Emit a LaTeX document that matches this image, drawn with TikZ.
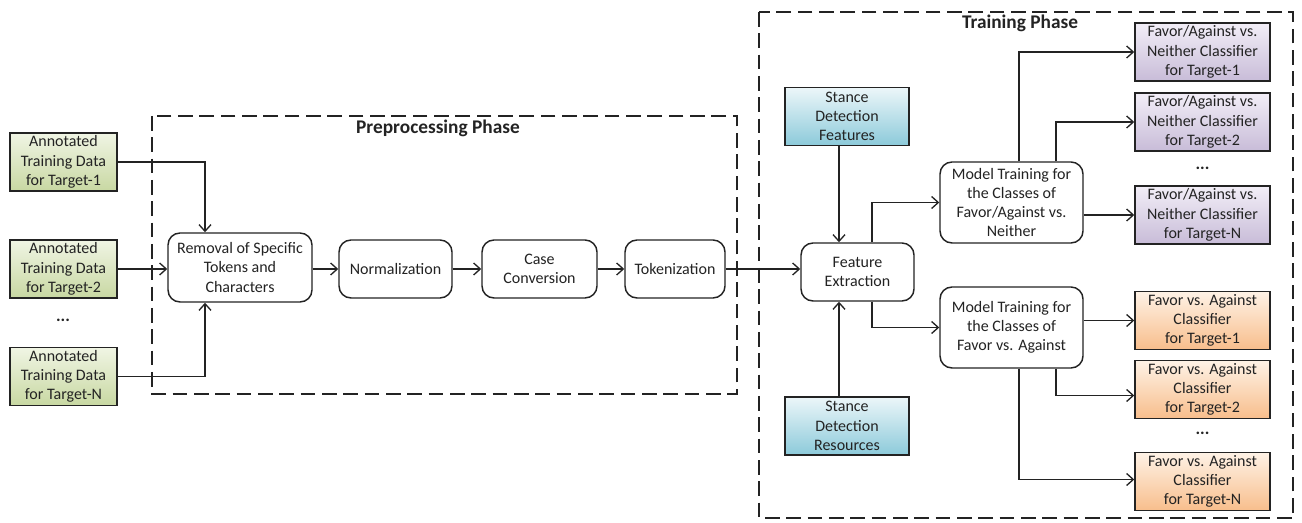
\documentclass[tikz,border=0pt]{standalone}
\usepackage{fontspec}
\setmainfont{Carlito}
\usetikzlibrary{arrows.meta,calc}
\definecolor{gtop}{RGB}{240,245,228}
\definecolor{gbot}{RGB}{200,216,162}
\definecolor{btop}{RGB}{236,246,249}
\definecolor{bbot}{RGB}{140,202,218}
\definecolor{ptop}{RGB}{242,238,247}
\definecolor{pbot}{RGB}{200,188,216}
\definecolor{otop}{RGB}{254,242,230}
\definecolor{obot}{RGB}{248,190,140}
\definecolor{ink}{RGB}{35,35,35}
\tikzset{
  base/.style={draw=ink, line width=1.1pt, align=center, inner sep=1pt,
    font=\fontsize{12}{14.4}\selectfont, text=ink},
  rbox/.style={base, rounded corners=9pt, fill=white},
  gbox/.style={base, top color=gtop, bottom color=gbot, minimum width=107*0.75pt, minimum height=58*0.75pt},
  bbox/.style={base, top color=btop, bottom color=bbot, minimum width=124*0.75pt, minimum height=58*0.75pt},
  pbox/.style={base, top color=ptop, bottom color=pbot, minimum width=135*0.75pt, minimum height=58*0.75pt},
  obox/.style={base, top color=otop, bottom color=obot, minimum width=135*0.75pt, minimum height=58*0.75pt},
  arr/.style={draw=ink, line width=1pt, -{Straight Barb[length=5pt,width=9pt,line width=1pt]}},
  phase/.style={draw=ink, line width=1.5pt, dash pattern=on 11pt off 5pt},
  ttl/.style={font=\fontsize{14.5}{16}\selectfont\bfseries, text=ink},
  dots/.style={font=\fontsize{13}{14}\selectfont\bfseries, text=ink}
}
\begin{document}
\begin{tikzpicture}[x=0.75pt,y=-0.75pt]
\useasboundingbox (0,0) rectangle (1302,523);
% phases
\draw[phase] (152,116) rectangle (737,394);
\draw[phase] (759,12) rectangle (1293,518);
\node[ttl] (t1) at (438,128) {Preprocessing Phase};
\node[ttl] (t2) at (1020,23) {Training Phase};
% inputs
\node[gbox] (g1) at (63.5,162) {Annotated\\Training Data\\for Target-1};
\node[gbox] (g2) at (63.5,269) {Annotated\\Training Data\\for Target-2};
\node[dots] (gd) at (63,320) {...};
\node[gbox] (g3) at (63.5,376.5) {Annotated\\Training Data\\for Target-N};
% preprocessing
\node[rbox, minimum width=144*0.75pt, minimum height=69*0.75pt] (rem) at (240,267.5) {Removal of Specific\\Tokens and\\Characters};
\node[rbox, minimum width=113*0.75pt, minimum height=58*0.75pt] (norm) at (395.5,269) {Normalization};
\node[rbox, minimum width=115*0.75pt, minimum height=58*0.75pt] (case) at (539.5,269) {Case\\Conversion};
\node[rbox, minimum width=100*0.75pt, minimum height=58*0.75pt] (tok) at (675,269) {Tokenization};
% training
\node[bbox] (sdf) at (847,116.5) {Stance\\Detection\\Features};
\node[rbox, minimum width=113*0.75pt, minimum height=58*0.75pt] (fe) at (857.5,272) {Feature\\Extraction};
\node[bbox] (sdr) at (847,426) {Stance\\Detection\\Resources};
\node[rbox, minimum width=143*0.75pt, minimum height=81*0.75pt] (m1) at (1011.5,202.5) {Model Training for\\the Classes of\\Favor/Against vs.\\Neither};
\node[rbox, minimum width=143*0.75pt, minimum height=81*0.75pt] (m2) at (1011.5,327.5) {Model Training for\\the Classes of\\Favor vs. Against};
\node[pbox] (p1) at (1202.5,52) {Favor/Against vs.\\Neither Classifier\\for Target-1};
\node[pbox] (p2) at (1202.5,122) {Favor/Against vs.\\Neither Classifier\\for Target-2};
\node[dots] (pd) at (1202.5,168) {...};
\node[pbox] (pN) at (1202.5,215) {Favor/Against vs.\\Neither Classifier\\for Target-N};
\node[obox] (o1) at (1202.5,320.5) {Favor vs. Against\\Classifier\\for Target-1};
\node[obox] (o2) at (1202.5,389.5) {Favor vs. Against\\Classifier\\for Target-2};
\node[dots] (od) at (1202.5,433) {...};
\node[obox] (oN) at (1202.5,481.5) {Favor vs. Against\\Classifier\\for Target-N};
% connectors
\coordinate (rn) at ($(rem.north)+(-35,0)$);
\coordinate (rs) at ($(rem.south)+(-35,0)$);
\draw[arr] (g1.east) -| (rn);
\draw[arr] (g2.east) -- (g2.east -| rem.west);
\draw[arr] (g3.east) -| (rs);
\draw[arr] (rem.east |- norm.west) -- (norm.west);
\draw[arr] (norm.east) -- (case.west);
\draw[arr] (case.east) -- (tok.west);
\draw[arr] (tok.east) -- (tok.east -| fe.west);
\coordinate (fn) at ($(fe.north)+(-18.5,0)$);
\coordinate (fs) at ($(fe.south)+(-18.5,0)$);
\draw[arr] (sdf.south -| fn) -- (fn);
\draw[arr] (sdr.north -| fs) -- (fs);
\coordinate (fn2) at ($(fe.north)+(14.5,0)$);
\coordinate (fs2) at ($(fe.south)+(14.5,0)$);
\draw[arr] (fn2) |- (m1.west);
\draw[arr] (fs2) |- (m2.west);
\coordinate (m1a) at ($(m1.north)+(7.5,0)$);
\coordinate (m1b) at ($(m1.north)+(44.5,0)$);
\draw[arr] (m1a) |- (p1.west);
\draw[arr] (m1b) |- (p2.west);
\draw[arr] (m1.east |- pN.west) -- (pN.west);
\coordinate (m2a) at ($(m2.south)+(7.5,0)$);
\coordinate (m2b) at ($(m2.south)+(44.5,0)$);
\draw[arr] (m2.east |- o1.west) -- (o1.west);
\draw[arr] (m2b) |- ($(o2.west)+(0,6)$);
\draw[arr] (m2a) |- ($(oN.west)+(0,-2)$);
\end{tikzpicture}
\end{document}
